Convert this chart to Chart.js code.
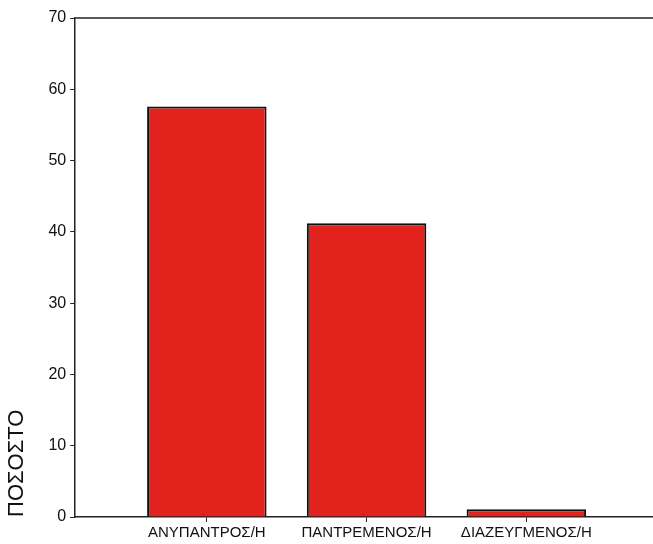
<!DOCTYPE html>
<html>
<head>
<meta charset="utf-8">
<script src="https://cdn.jsdelivr.net/npm/chart.js@4"></script>
<style>
  body { margin: 0; background: #fff; overflow: hidden; }
</style>
</head>
<body>
<canvas id="chart" width="653" height="544"></canvas>
<script>
// Marital status percentages
const categories = ['ΑΝΥΠΑΝΤΡΟΣ/Η', 'ΠΑΝΤΡΕΜΕΝΟΣ/Η', 'ΔΙΑΖΕΥΓΜΕΝΟΣ/Η'];
const percentValues = [57.6, 41.2, 1.1];
const yTicks = [0, 10, 20, 30, 40, 50, 60, 70];

const fontFamily = '"Liberation Sans", Arial, sans-serif';

// Top frame line
const frameTop = {
  id: 'frameTop',
  afterDraw(chart) {
    const { ctx, chartArea } = chart;
    ctx.save();
    ctx.strokeStyle = '#222';
    ctx.lineWidth = 1.5;
    ctx.beginPath();
    ctx.moveTo(chartArea.left, chartArea.top);
    ctx.lineTo(chartArea.right, chartArea.top);
    ctx.stroke();
    ctx.restore();
  }
};

const ctx = document.getElementById('chart').getContext('2d');
new Chart(ctx, {
  type: 'bar',
  data: {
    datasets: [{
      data: percentValues.map((v, i) => ({ x: i, y: v })),
      backgroundColor: '#e2221d',
      borderColor: '#111',
      borderWidth: 2,
      categoryPercentage: 0.8,
      barPercentage: 0.935,
    }],
  },
  options: {
    responsive: false,
    animation: false,
    layout: { padding: { left: 4, top: 18, right: 0, bottom: 0 } },
    plugins: {
      legend: { display: false },
      tooltip: { enabled: false },
    },
    scales: {
      x: {
        type: 'linear',
        offset: false,
        min: -0.824,
        max: 2.793,
        afterBuildTicks: (scale) => {
          scale.ticks = categories.map((c, i) => ({ value: i }));
        },
        grid: {
          drawOnChartArea: false,
          offset: false,
          tickLength: 5,
          color: '#222',
        },
        border: { color: '#222', width: 1.5 },
        ticks: {
          color: '#111',
          font: { family: fontFamily, size: 15 },
          padding: 2,
          maxRotation: 0,
          autoSkip: false,
          callback: (value) => categories[value],
        },
      },
      y: {
        min: 0,
        max: 70,
        afterBuildTicks: (scale) => {
          scale.ticks = yTicks.map(v => ({ value: v }));
        },
        grid: {
          drawOnChartArea: false,
          tickLength: 5,
          color: '#222',
        },
        border: { color: '#222', width: 1.5 },
        ticks: {
          color: '#111',
          font: { family: fontFamily, size: 16 },
          padding: 4,
        },
        title: {
          display: true,
          text: 'ΠΟΣΟΣΤΟ',
          align: 'start',
          color: '#111',
          font: { family: fontFamily, size: 22 },
          padding: { top: 0, bottom: 14 },
        },
      },
    },
  },
  plugins: [frameTop],
});
</script>
</body>
</html>
